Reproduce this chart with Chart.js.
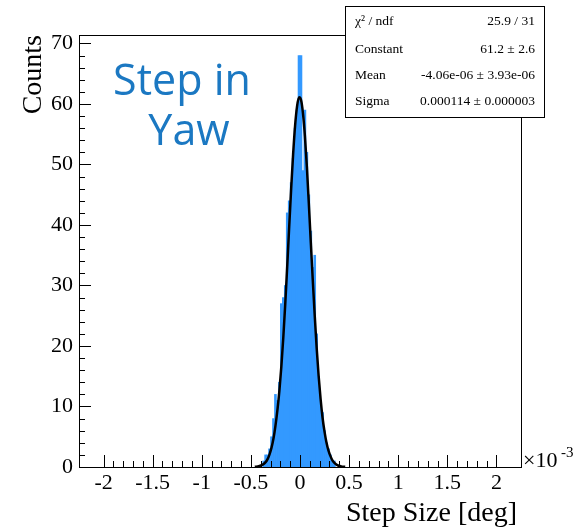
<!DOCTYPE html>
<html>
<head>
<meta charset="utf-8">
<script src="https://cdn.jsdelivr.net/npm/chart.js@4.4.0/dist/chart.umd.min.js"></script>
<style>
  body { margin: 0; background: #fff; }
  #wrap { width: 573px; height: 528px; }
</style>
</head>
<body>
<div id="wrap"><canvas id="stepChart" width="573" height="528"></canvas></div>
<script>
// histogram bins (x in 10^-3 deg, width 0.02)
const binCenters = [-0.37, -0.35, -0.33, -0.31, -0.29, -0.27, -0.25, -0.23, -0.21, -0.19,
                    -0.17, -0.15, -0.13, -0.11, -0.09, -0.07, -0.05, -0.03, -0.01, 0.01,
                     0.03,  0.05,  0.07,  0.09,  0.11,  0.13,  0.15,  0.17,  0.19,  0.21,
                     0.23,  0.25,  0.27,  0.29,  0.31,  0.33,  0.35];
const binCounts = [1, 2, 2, 3, 5, 8, 12, 11, 14, 27,
                   28, 30, 42, 44, 47, 51, 56, 59, 68, 68,
                   49, 59, 52, 45, 39, 33, 35, 22, 15, 11,
                   9, 6, 4, 3, 2, 1, 1];

// gaussian fit curve
const fitX = [-0.46, -0.42, -0.39, -0.37, -0.35, -0.33, -0.31, -0.29, -0.27, -0.25, -0.23, -0.21,
              -0.19, -0.17, -0.15, -0.13, -0.11, -0.09, -0.07, -0.05, -0.03, -0.01, 0.01,
               0.03, 0.05, 0.07, 0.09, 0.11, 0.13, 0.15, 0.17, 0.19, 0.21, 0.23,
               0.25, 0.27, 0.29, 0.31, 0.33, 0.35, 0.38, 0.42, 0.46];
const fitY = [0.03, 0.12, 0.3, 0.5, 0.8, 1.3, 2.1, 3.2, 4.7, 6.8, 9.4, 12.6,
              16.6, 21.4, 27.0, 33.2, 39.7, 46.0, 51.7, 56.4, 59.6, 61.1, 60.7,
              58.5, 54.7, 49.6, 43.5, 37.1, 30.9, 25.0, 19.6, 15.0, 11.2, 8.1,
              5.8, 4.0, 2.7, 1.8, 1.1, 0.7, 0.3, 0.1, 0.03];

const xTicks = [-2, -1.5, -1, -0.5, 0, 0.5, 1, 1.5, 2];
const yTicks = [0, 10, 20, 30, 40, 50, 60, 70];

const statsRows = [
  ["\u03c7\u00b2 / ndf", "25.9 / 31"],
  ["Constant", "61.2 \u00b1 2.6"],
  ["Mean", "-4.06e-06 \u00b1 3.93e-06"],
  ["Sigma", "0.000114 \u00b1 0.000003"]
];

const serif = '"Liberation Serif", "DejaVu Serif", serif';

// ROOT style frame, inward ticks, labels, stats box
const rootFrame = {
  id: 'rootFrame',
  afterDraw(chart) {
    const ctx = chart.ctx;
    const xs = chart.scales.x, ys = chart.scales.y;
    const a = chart.chartArea;
    ctx.save();
    ctx.strokeStyle = '#000';
    ctx.lineWidth = 1;
    ctx.strokeRect(a.left + 0.5, a.top + 0.5, a.right - a.left, a.bottom - a.top);

    ctx.beginPath();
    // x ticks
    for (let v = xs.min; v <= xs.max + 1e-9; v += 0.1) {
      const px = Math.round(xs.getPixelForValue(v)) + 0.5;
      const major = Math.abs(v * 2 - Math.round(v * 2)) < 1e-6;
      ctx.moveTo(px, a.bottom);
      ctx.lineTo(px, a.bottom - (major ? 12 : 6));
    }
    // y ticks
    for (let v = 0; v <= ys.max; v += 2) {
      const py = Math.round(ys.getPixelForValue(v)) + 0.5;
      const major = v % 10 === 0;
      ctx.moveTo(a.left, py);
      ctx.lineTo(a.left + (major ? 12 : 6), py);
    }
    ctx.stroke();

    ctx.fillStyle = '#000';
    ctx.font = '22px ' + serif;
    ctx.textAlign = 'center';
    ctx.textBaseline = 'top';
    xTicks.forEach(v => ctx.fillText(String(v), xs.getPixelForValue(v), a.bottom + 5));
    ctx.textAlign = 'right';
    ctx.textBaseline = 'middle';
    yTicks.forEach(v => ctx.fillText(String(v), a.left - 6, ys.getPixelForValue(v)));

    // x10^-3
    ctx.textAlign = 'left';
    ctx.textBaseline = 'alphabetic';
    ctx.fillText('\u00d710', a.right + 2, a.bottom);
    ctx.font = '15px ' + serif;
    ctx.fillText('-3', a.right + 40, a.bottom - 10);

    // axis titles
    ctx.font = '28px ' + serif;
    ctx.textAlign = 'right';
    ctx.fillText('Step Size [deg]', a.right - 4, a.bottom + 54);
    ctx.save();
    ctx.translate(41, a.top);
    ctx.rotate(-Math.PI / 2);
    ctx.textAlign = 'right';
    ctx.fillText('Counts', 0, 0);
    ctx.restore();

    // annotation
    ctx.fillStyle = '#1b78c2';
    ctx.font = '43px "Open Sans", sans-serif';
    ctx.textAlign = 'center';
    ctx.fillText('Step in', 182, 95);
    ctx.fillText('Yaw', 189, 145);

    // stats box
    const bx = 345, by = 6, bw = 199, bh = 111;
    ctx.fillStyle = '#fff';
    ctx.fillRect(bx, by, bw, bh);
    ctx.strokeStyle = '#000';
    ctx.strokeRect(bx + 0.5, by + 0.5, bw, bh);
    ctx.fillStyle = '#000';
    ctx.font = '13.5px ' + serif;
    ctx.textBaseline = 'middle';
    const rowY = [21, 49, 75, 101];
    statsRows.forEach((r, i) => {
      ctx.textAlign = 'left';
      ctx.fillText(r[0], bx + 10, rowY[i]);
      ctx.textAlign = 'right';
      ctx.fillText(r[1], bx + bw - 9, rowY[i]);
    });
    ctx.restore();
  }
};

const ctx = document.getElementById('stepChart');
new Chart(ctx, {
  type: 'bar',
  data: {
    datasets: [{
      type: 'line',
      label: 'gaus',
      data: fitX.map((x, i) => ({ x: x, y: fitY[i] })),
      borderColor: '#000',
      borderWidth: 2.5,
      pointRadius: 0,
      tension: 0.4,
      cubicInterpolationMode: 'monotone',
      order: 0
    }, {
      type: 'bar',
      label: 'Step in Yaw',
      data: binCenters.map((x, i) => ({ x: x, y: binCounts[i] })),
      backgroundColor: '#3399ff',
      borderWidth: 0,
      barPercentage: 1,
      categoryPercentage: 1,
      order: 1
    }]
  },
  options: {
    responsive: false,
    animation: false,
    devicePixelRatio: 1,
    layout: { padding: { left: 79, top: 35, right: 52, bottom: 61 } },
    plugins: { legend: { display: false }, tooltip: { enabled: false } },
    scales: {
      x: { type: 'linear', min: -2, max: 2, display: false },
      y: { min: 0, max: 71.4, display: false }
    }
  },
  plugins: [rootFrame]
});
</script>
</body>
</html>
